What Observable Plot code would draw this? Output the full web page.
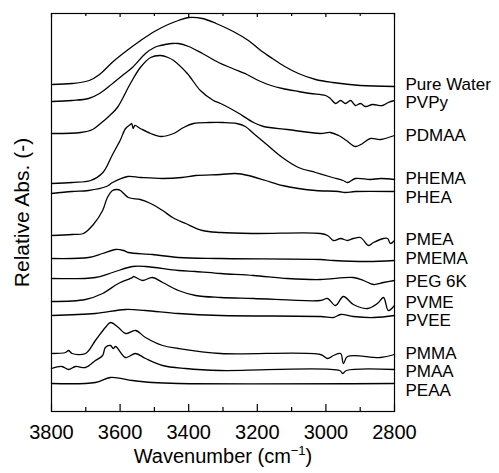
<!DOCTYPE html>
<html><head><meta charset="utf-8">
<script src="https://cdn.jsdelivr.net/npm/d3@7"></script>
<script src="https://cdn.jsdelivr.net/npm/@observablehq/plot@0.6"></script>
<style>body{margin:0;background:#fff}</style>
</head><body><div id="chart"></div>
<script>
// Sample names (top to bottom)
const samples = ["Pure Water","PVPy","PDMAA","PHEMA","PHEA","PMEA","PMEMA","PEG 6K","PVME","PVEE","PMMA","PMAA","PEAA"];
// Vertical stacking offsets (relative abs.)
const offsets = [3.25,3.11,2.76,2.32,2.20,1.72,1.51,1.31,1.06,0.96,0.57,0.42,0.28];
// Label positions (relative abs.)
const labelY = [3.27,3.09,2.76,2.33,2.14,1.72,1.53,1.30,1.09,0.91,0.58,0.40,0.21];

// Spectra: [wavenumber, relative absorbance above offset]
const sPureWater = [[3800,0.02],[3740,0.03],[3690,0.06],[3660,0.12],[3620,0.25],[3580,0.36],[3540,0.46],[3500,0.55],[3460,0.62],[3430,0.66],[3400,0.69],[3360,0.68],[3320,0.63],[3270,0.55],[3226,0.46],[3190,0.36],[3156,0.28],[3120,0.20],[3080,0.13],[3030,0.07],[2980,0.04],[2900,0.01],[2800,0]];
const sPVPy = [[3800,-0.01],[3740,0],[3692,0.02],[3660,0.07],[3622,0.17],[3590,0.26],[3564,0.33],[3526,0.47],[3500,0.53],[3482,0.55],[3450,0.57],[3430,0.57],[3400,0.54],[3360,0.47],[3313,0.38],[3272,0.32],[3230,0.26],[3197,0.20],[3160,0.15],[3127,0.12],[3080,0.09],[3045,0.07],[3001,0.05],[2987,0.02],[2972,-0.03],[2957,0],[2943,-0.03],[2928,0],[2914,-0.05],[2899,-0.03],[2885,-0.06],[2864,-0.04],[2835,-0.05],[2818,-0.02],[2800,0]];
const sPDMAA = [[3800,0.02],[3715,0.03],[3680,0.06],[3657,0.12],[3630,0.20],[3608,0.28],[3570,0.52],[3541,0.68],[3511,0.78],[3482,0.80],[3460,0.78],[3444,0.75],[3404,0.62],[3366,0.45],[3328,0.35],[3307,0.32],[3258,0.23],[3211,0.13],[3182,0.09],[3112,0.06],[3016,0.02],[2987,0.03],[2963,0],[2940,-0.05],[2914,-0.11],[2893,-0.08],[2870,-0.03],[2841,-0.04],[2800,0]];
const sPHEMA = [[3800,-0.04],[3740,-0.03],[3686,-0.01],[3650,0.07],[3622,0.25],[3600,0.39],[3584,0.51],[3570,0.55],[3566,0.56],[3562,0.51],[3557,0.54],[3541,0.51],[3511,0.46],[3480,0.43],[3444,0.46],[3415,0.52],[3386,0.56],[3340,0.57],[3300,0.57],[3260,0.56],[3235,0.53],[3211,0.46],[3176,0.36],[3127,0.22],[3080,0.12],[3030,0.07],[2981,0.02],[2950,-0.01],[2937,-0.03],[2914,0.01],[2870,0],[2841,0.01],[2800,0]];
const sPHEA = [[3800,-0.02],[3740,0],[3692,0.01],[3640,0.05],[3622,0.09],[3578,0.15],[3540,0.14],[3476,0.13],[3420,0.14],[3380,0.16],[3307,0.17],[3264,0.18],[3226,0.16],[3176,0.11],[3127,0.06],[3080,0.03],[3030,0.01],[2963,0],[2943,-0.01],[2914,0],[2800,0]];
const sPMEA = [[3800,0.04],[3740,0.05],[3707,0.06],[3678,0.15],[3651,0.29],[3637,0.42],[3622,0.49],[3608,0.50],[3599,0.49],[3576,0.42],[3541,0.40],[3511,0.36],[3476,0.29],[3447,0.22],[3409,0.16],[3360,0.09],[3307,0.07],[3211,0.06],[3016,0.06],[2995,0.04],[2978,-0.01],[2957,0.01],[2937,-0.01],[2920,0.01],[2899,0.02],[2876,-0.06],[2861,-0.03],[2832,0.01],[2820,0.01],[2812,-0.04],[2800,-0.01]];
const sPMEMA = [[3800,0.02],[3692,0.03],[3651,0.07],[3613,0.11],[3590,0.10],[3576,0.08],[3506,0.06],[3430,0.03],[3307,0.02],[3016,0.01],[2978,0],[2879,-0.01],[2800,0]];
const sPEG6K = [[3800,0.02],[3672,0.03],[3622,0.08],[3564,0.14],[3526,0.14],[3430,0.10],[3380,0.09],[3307,0.07],[3211,0.05],[3112,0.02],[3016,0.01],[2920,0.03],[2890,0],[2861,-0.04],[2832,-0.02],[2800,0]];
const sPVME = [[3800,0.04],[3701,0.06],[3651,0.12],[3605,0.22],[3564,0.28],[3561,0.29],[3535,0.25],[3506,0.28],[3476,0.23],[3430,0.15],[3380,0.10],[3307,0.08],[3211,0.07],[3016,0.05],[2995,0.07],[2972,0],[2949,0.09],[2920,0.01],[2879,-0.03],[2850,0.02],[2832,0.08],[2818,-0.05],[2800,0]];
const sPVEE = [[3800,0],[3672,0.02],[3584,0.06],[3526,0.05],[3430,0.02],[3307,0],[3016,-0.01],[2978,-0.02],[2957,0.01],[2920,-0.01],[2861,-0.02],[2800,0]];
const sPMMA = [[3800,0.01],[3759,0.02],[3750,0.04],[3740,0.01],[3701,0.01],[3672,0.14],[3643,0.27],[3628,0.32],[3605,0.27],[3584,0.21],[3555,0.24],[3526,0.17],[3476,0.09],[3430,0.06],[3307,0.01],[3016,0],[2995,-0.04],[2978,-0.01],[2957,0.01],[2949,-0.09],[2937,-0.02],[2841,-0.03],[2800,0]];
const sPMAA = [[3800,0.01],[3770,0.03],[3750,0],[3730,0.03],[3701,0.02],[3672,0.09],[3651,0.14],[3643,0.22],[3628,0.24],[3620,0.21],[3613,0.23],[3584,0.12],[3555,0.16],[3526,0.11],[3476,0.04],[3409,0.01],[3307,-0.01],[2960,-0.01],[2951,-0.04],[2940,-0.01],[2800,0]];
const sPEAA = [[3800,0],[3672,0.01],[3628,0.06],[3564,0.03],[3506,0.01],[3430,0],[2800,0]];

const spectra = [sPureWater,sPVPy,sPDMAA,sPHEMA,sPHEA,sPMEA,sPMEMA,sPEG6K,sPVME,sPVEE,sPMMA,sPMAA,sPEAA];

const majorTicks = [3800,3600,3400,3200,3000,2800];
const minorTicks = [3700,3500,3300,3100,2900];
const xTitle = "Wavenumber (cm\u22121)";
const yTitle = "Relative Abs. (-)";

const rows = spectra.flatMap((s, i) => s.map(([w, a]) => ({sample: samples[i], w, y: offsets[i] + a})));
const labels = samples.map((s, i) => ({sample: s, y: labelY[i]}));

const W = 499, H = 473, mL = 51, mR = 105, mT = 13, mB = 62;
const frameH = H - mT - mB;

const chart = Plot.plot({
  width: W, height: H,
  marginLeft: mL, marginRight: mR, marginTop: mT, marginBottom: mB,
  style: {fontFamily: "'Liberation Sans', Arial, sans-serif", fontSize: "20px", color: "black", background: "white"},
  x: {domain: [3800, 2800]},
  y: {domain: [0, 3.98], axis: null},
  marks: [
    Plot.line(rows, {x: "w", y: "y", z: "sample", stroke: "black", strokeWidth: 1.3, curve: "catmull-rom"}),
    Plot.frame({stroke: "black", strokeWidth: 1.2}),
    // inward ticks (bottom and top)
    Plot.ruleX(majorTicks, {x: d => d, insetTop: frameH - 7, stroke: "black", strokeWidth: 1.2}),
    Plot.ruleX(minorTicks, {x: d => d, insetTop: frameH - 4, stroke: "black", strokeWidth: 1.2}),
    Plot.ruleX(majorTicks, {x: d => d, insetBottom: frameH - 4, stroke: "black", strokeWidth: 1.2}),
    Plot.ruleX(minorTicks, {x: d => d, insetBottom: frameH - 3, stroke: "black", strokeWidth: 1.2}),
    Plot.axisX(majorTicks, {anchor: "bottom", tickSize: 0, tickPadding: 13, fontSize: 20, label: null, tickFormat: d => String(d)}),
    Plot.text(labels, {y: "y", frameAnchor: "right", dx: 11, textAnchor: "start", text: "sample", fontSize: 17}),
    Plot.text([xTitle], {frameAnchor: "bottom", dy: 51, textAnchor: "middle", text: d => d, fontSize: 20}),
    Plot.text([yTitle], {frameAnchor: "left", dx: -29, rotate: -90, textAnchor: "middle", text: d => d, fontSize: 21})
  ]
});
document.getElementById("chart").append(chart);

// superscript for the unit
chart.querySelectorAll("text").forEach(t => {
  if (t.textContent === xTitle) {
    t.textContent = "";
    const ns = "http://www.w3.org/2000/svg";
    const a = document.createElementNS(ns, "tspan"); a.textContent = "Wavenumber (cm";
    const b = document.createElementNS(ns, "tspan"); b.textContent = "\u22121"; b.setAttribute("font-size", "13"); b.setAttribute("dy", "-8");
    const c = document.createElementNS(ns, "tspan"); c.textContent = ")"; c.setAttribute("dy", "8");
    t.append(a, b, c);
  }
});
</script>
</body></html>
